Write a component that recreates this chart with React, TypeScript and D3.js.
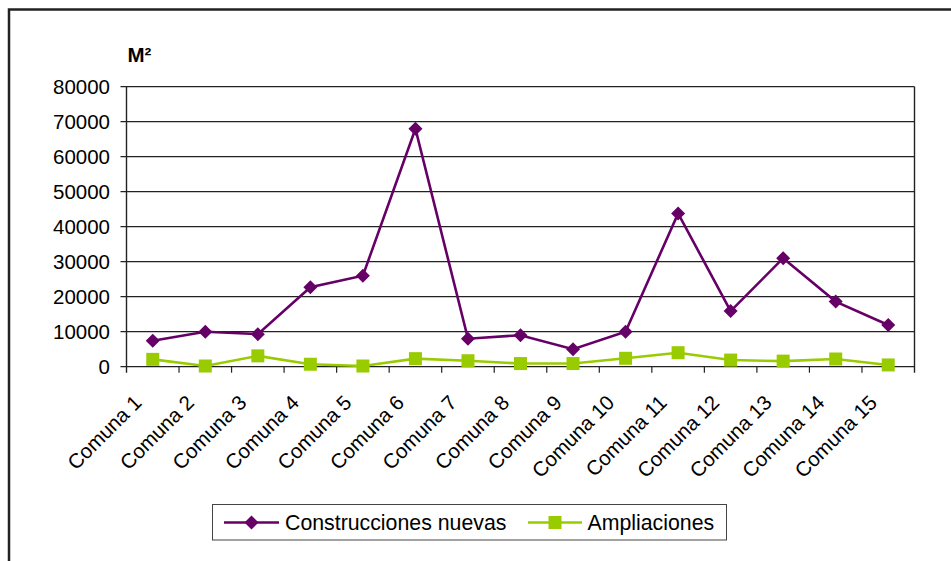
import React from "react";
import * as d3 from "d3";

const categories = [
  "Comuna 1", "Comuna 2", "Comuna 3", "Comuna 4", "Comuna 5",
  "Comuna 6", "Comuna 7", "Comuna 8", "Comuna 9", "Comuna 10",
  "Comuna 11", "Comuna 12", "Comuna 13", "Comuna 14", "Comuna 15",
];
const construccionesNuevas = [
  7400, 10000, 9300, 22700, 26000, 68000, 8000, 9000, 5000, 10000,
  43800, 15900, 31000, 18600, 11900,
];
const ampliaciones = [
  2100, 200, 3100, 700, 200, 2300, 1700, 900, 900, 2400,
  4000, 1900, 1600, 2200, 500,
];
const yTicks = [0, 10000, 20000, 30000, 40000, 50000, 60000, 70000, 80000];
const seriesNames = ["Construcciones nuevas", "Ampliaciones"];

const W = 951;
const H = 561;
const FONT = "'Liberation Sans', Arial, sans-serif";
const PURPLE = "#660066";
const GREEN = "#99CC00";

export default function App() {
  const left = 126.5;
  const right = 914.5;
  const top = 86.7;
  const bottom = 366.7;

  const x = d3.scaleBand<string>().domain(categories).range([left, right]).padding(0);
  const y = d3.scaleLinear().domain([0, 80000]).range([bottom, top]);
  const cx = (c: string) => (x(c) as number) + x.bandwidth() / 2;

  const line = d3
    .line<number>()
    .x((_, i) => cx(categories[i]))
    .y((d) => y(d));

  const diamond = (px: number, py: number, r: number) =>
    `M${px},${py - r}L${px + r},${py}L${px},${py + r}L${px - r},${py}Z`;

  const sq = 13;
  const dr = 7;

  return (
    <svg
      width={W}
      height={H}
      style={{ position: "absolute", left: 0, top: 0, background: "#fff" }}
      fontFamily={FONT}
    >
      <rect x={0} y={0} width={W} height={H} fill="#fff" />
      {/* outer frame */}
      <rect x={9} y={9.5} width={W + 20} height={H + 20} fill="none" stroke="#222" strokeWidth={2.5} />

      {/* gridlines */}
      {yTicks.map((t) => (
        <line key={"g" + t} x1={left - 6} x2={right} y1={y(t)} y2={y(t)} stroke="#222" strokeWidth={1.2} />
      ))}
      {/* axes */}
      <line x1={left} x2={left} y1={top} y2={bottom + 6} stroke="#222" strokeWidth={1.4} />
      <line x1={right} x2={right} y1={top} y2={bottom + 6} stroke="#222" strokeWidth={1.4} />
      {categories.map((c, i) =>
        i === 0 ? null : (
          <line key={"t" + c} x1={x(c) as number} x2={x(c) as number} y1={bottom} y2={bottom + 6} stroke="#222" strokeWidth={1.2} />
        )
      )}

      {/* y labels */}
      {yTicks.map((t) => (
        <text key={"yl" + t} x={110} y={y(t)} dy="0.36em" textAnchor="end" fontSize={20.5} fill="#000">
          {t}
        </text>
      ))}
      <text x={127.5} y={62} fontSize={20.5} fontWeight="bold" fill="#000">
        M²
      </text>

      {/* x labels */}
      {categories.map((c) => (
        <text
          key={"xl" + c}
          transform={`translate(${cx(c) - 10},${404}) rotate(-45)`}
          textAnchor="end"
          fontSize={20.5}
          fill="#000"
        >
          {c}
        </text>
      ))}

      {/* series */}
      <path d={line(construccionesNuevas) || ""} fill="none" stroke={PURPLE} strokeWidth={2.6} />
      <path d={line(ampliaciones) || ""} fill="none" stroke={GREEN} strokeWidth={2.6} />
      {construccionesNuevas.map((v, i) => (
        <path key={"d" + i} d={diamond(cx(categories[i]), y(v), dr)} fill={PURPLE} />
      ))}
      {ampliaciones.map((v, i) => (
        <rect key={"s" + i} x={cx(categories[i]) - sq / 2} y={y(v) - sq / 2} width={sq} height={sq} fill={GREEN} />
      ))}

      {/* legend */}
      <rect x={212.5} y={504.5} width={514} height={35.5} fill="#fff" stroke="#444" strokeWidth={1} />
      <line x1={224} x2={279} y1={522.5} y2={522.5} stroke={PURPLE} strokeWidth={2.6} />
      <path d={diamond(251.5, 522.5, dr)} fill={PURPLE} />
      <text x={285} y={530} fontSize={21.3} fill="#000">
        {seriesNames[0]}
      </text>
      <line x1={528} x2={582} y1={522.5} y2={522.5} stroke={GREEN} strokeWidth={2.6} />
      <rect x={555 - sq / 2} y={522.5 - sq / 2} width={sq} height={sq} fill={GREEN} />
      <text x={587.5} y={530} fontSize={21.3} fill="#000">
        {seriesNames[1]}
      </text>
    </svg>
  );
}
